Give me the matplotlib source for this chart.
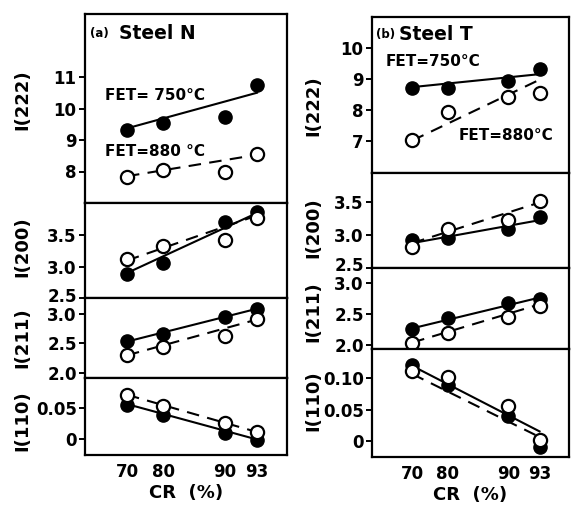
import numpy as np
import matplotlib
matplotlib.use('Agg')
import matplotlib.pyplot as plt
from matplotlib.transforms import ScaledTranslation

# cold rolling reduction (%)
cr = [70, 80, 90, 93]
cr_ends = [70, 93]

# Steel N, measured intensities (filled = FET 750, open = FET 880)
n_222_750 = [9.32, 9.53, 9.74, 10.75]
n_222_880 = [7.83, 8.04, 8.0, 8.56]
n_200_750 = [2.89, 3.06, 3.71, 3.88]
n_200_880 = [3.12, 3.33, 3.42, 3.78]
n_211_750 = [2.54, 2.65, 2.95, 3.08]
n_211_880 = [2.30, 2.44, 2.63, 2.90]
n_110_750 = [0.055, 0.040, 0.011, -0.001]
n_110_880 = [0.072, 0.054, 0.027, 0.012]

# Steel N, fitted lines (values at 70 and 93 %)
n_222_fit750 = [9.37, 10.5]
n_222_fit880 = [7.85, 8.53]
n_200_fit750 = [2.9, 3.86]
n_200_fit880 = [3.1, 3.82]
n_211_fit750 = [2.53, 3.08]
n_211_fit880 = [2.3, 2.9]
n_110_fit750 = [0.057, 0.0]
n_110_fit880 = [0.072, 0.012]

# Steel T
t_222_750 = [8.70, 8.70, 8.94, 9.32]
t_222_880 = [7.02, 7.92, 8.41, 8.54]
t_200_750 = [2.93, 2.96, 3.10, 3.28]
t_200_880 = [2.82, 3.10, 3.24, 3.52]
t_211_750 = [2.26, 2.44, 2.68, 2.74]
t_211_880 = [2.04, 2.19, 2.46, 2.63]
t_110_750 = [0.121, 0.089, 0.040, -0.010]
t_110_880 = [0.111, 0.102, 0.055, 0.001]

t_222_fit750 = [8.73, 9.15]
t_222_fit880 = [7.0, 8.97]
t_200_fit750 = [2.88, 3.23]
t_200_fit880 = [2.88, 3.5]
t_211_fit750 = [2.27, 2.77]
t_211_fit880 = [2.04, 2.66]
t_110_fit750 = [0.12, 0.015]
t_110_fit880 = [0.107, 0.006]

W, H = 573, 505
plt.rcParams['font.family'] = ['DejaVu Sans']
plt.rcParams['font.weight'] = 'bold'

fig = plt.figure(figsize=(W / 100, H / 100), dpi=100)


def box(x0, y0, x1, y1):
    # pixel box (top-left origin) -> figure fraction rect
    return [x0 / W, 1 - y1 / H, (x1 - x0) / W, (y1 - y0) / H]


def fwd(x):
    x = np.asarray(x, dtype=float)
    with np.errstate(invalid='ignore', divide='ignore'):
        return -np.log(1 - x / 100)


def inv(y):
    return 100 * (1 - np.exp(-np.asarray(y, dtype=float)))


def panel(rect, ylim, yticks, ylabels, filled, opened, fit_f, fit_o, xlim,
          bottom=False, lift_first=0):
    ax = fig.add_axes(rect)
    ax.set_xscale('function', functions=(fwd, inv))
    ax.set_xlim(*xlim)
    ax.set_ylim(*ylim)
    ax.plot(cr_ends, fit_f, color='black', lw=1.5, zorder=2)
    ax.plot(cr_ends, fit_o, color='black', lw=1.5, ls=(0, (6, 4)), zorder=2)
    ax.plot(cr, filled, 'o', color='black', ms=9.5, zorder=3)
    ax.plot(cr, opened, 'o', mfc='white', mec='black', mew=1.6, ms=9.5, zorder=4)
    ax.set_yticks(yticks)
    ax.set_yticklabels(ylabels, fontsize=12, fontweight='bold')
    ax.tick_params(axis='y', length=4, width=1.4, pad=2)
    ax.minorticks_off()
    if lift_first:
        lab = ax.get_yticklabels()[0]
        lab.set_transform(lab.get_transform() +
                          ScaledTranslation(0, lift_first / 100, fig.dpi_scale_trans))
    if bottom:
        ax.set_xticks(cr)
        ax.set_xticklabels([str(c) for c in cr], fontsize=12, fontweight='bold')
        ax.tick_params(axis='x', length=0, pad=6)
        ax.set_xlabel('CR  (%)', fontsize=13, fontweight='bold', labelpad=2)
    else:
        ax.set_xticks([])
    for s in ax.spines.values():
        s.set_linewidth(1.6)
    return ax


xl_n = (52, 95)
xl_t = (52.5, 95)

panel(box(85, 14, 287, 203), (7.0, 13.0), [8, 9, 10, 11], ['8', '9', '10', '11'],
      n_222_750, n_222_880, n_222_fit750, n_222_fit880, xl_n)
panel(box(85, 203, 287, 298), (2.5, 4.02), [2.5, 3.0, 3.5], ['2.5', '3.0', '3.5'],
      n_200_750, n_200_880, n_200_fit750, n_200_fit880, xl_n, lift_first=3)
panel(box(85, 298, 287, 378), (1.92, 3.26), [2.0, 2.5, 3.0], ['2.0', '2.5', '3.0'],
      n_211_750, n_211_880, n_211_fit750, n_211_fit880, xl_n)
panel(box(85, 378, 287, 455), (-0.025, 0.099), [0, 0.05], ['0', '0.05'],
      n_110_750, n_110_880, n_110_fit750, n_110_fit880, xl_n, bottom=True)

panel(box(372, 17, 569, 173), (5.95, 11.0), [7, 8, 9, 10], ['7', '8', '9', '10'],
      t_222_750, t_222_880, t_222_fit750, t_222_fit880, xl_t)
panel(box(372, 173, 569, 268), (2.53, 3.95), [2.5, 3.0, 3.5], ['2.5', '3.0', '3.5'],
      t_200_750, t_200_880, t_200_fit750, t_200_fit880, xl_t, lift_first=4)
panel(box(372, 268, 569, 349), (1.935, 3.25), [2.0, 2.5, 3.0], ['2.0', '2.5', '3.0'],
      t_211_750, t_211_880, t_211_fit750, t_211_fit880, xl_t)
panel(box(372, 349, 569, 457), (-0.026, 0.147), [0, 0.05, 0.10], ['0', '0.05', '0.10'],
      t_110_750, t_110_880, t_110_fit750, t_110_fit880, xl_t, bottom=True)


def ftext(x, y, s, **kw):
    fig.text(x / W, 1 - y / H, s, **kw)


# y labels
for x, y, s in [(22, 100, 'I(222)'), (22, 247, 'I(200)'), (22, 338, 'I(211)'), (22, 421, 'I(110)'),
                (313, 106, 'I(222)'), (313, 228, 'I(200)'), (313, 312, 'I(211)'), (313, 401, 'I(110)')]:
    ftext(x, y, s, rotation=90, ha='center', va='center', fontsize=13, fontweight='bold')

# panel titles
ftext(90, 33, '(a)', ha='left', va='center', fontsize=8.5, fontweight='bold')
ftext(119, 33, 'Steel N', ha='left', va='center', fontsize=13.5, fontweight='bold')
ftext(376, 34, '(b)', ha='left', va='center', fontsize=8.5, fontweight='bold')
ftext(399, 34, 'Steel T', ha='left', va='center', fontsize=13.5, fontweight='bold')

# annotations
ftext(105, 96, 'FET= 750°C', ha='left', va='center', fontsize=11, fontweight='bold')
ftext(105, 152, 'FET=880 °C', ha='left', va='center', fontsize=11, fontweight='bold')
ftext(386, 62, 'FET=750°C', ha='left', va='center', fontsize=11, fontweight='bold')
ftext(459, 136, 'FET=880°C', ha='left', va='center', fontsize=11, fontweight='bold')

fig.savefig('out.png', dpi=100)
